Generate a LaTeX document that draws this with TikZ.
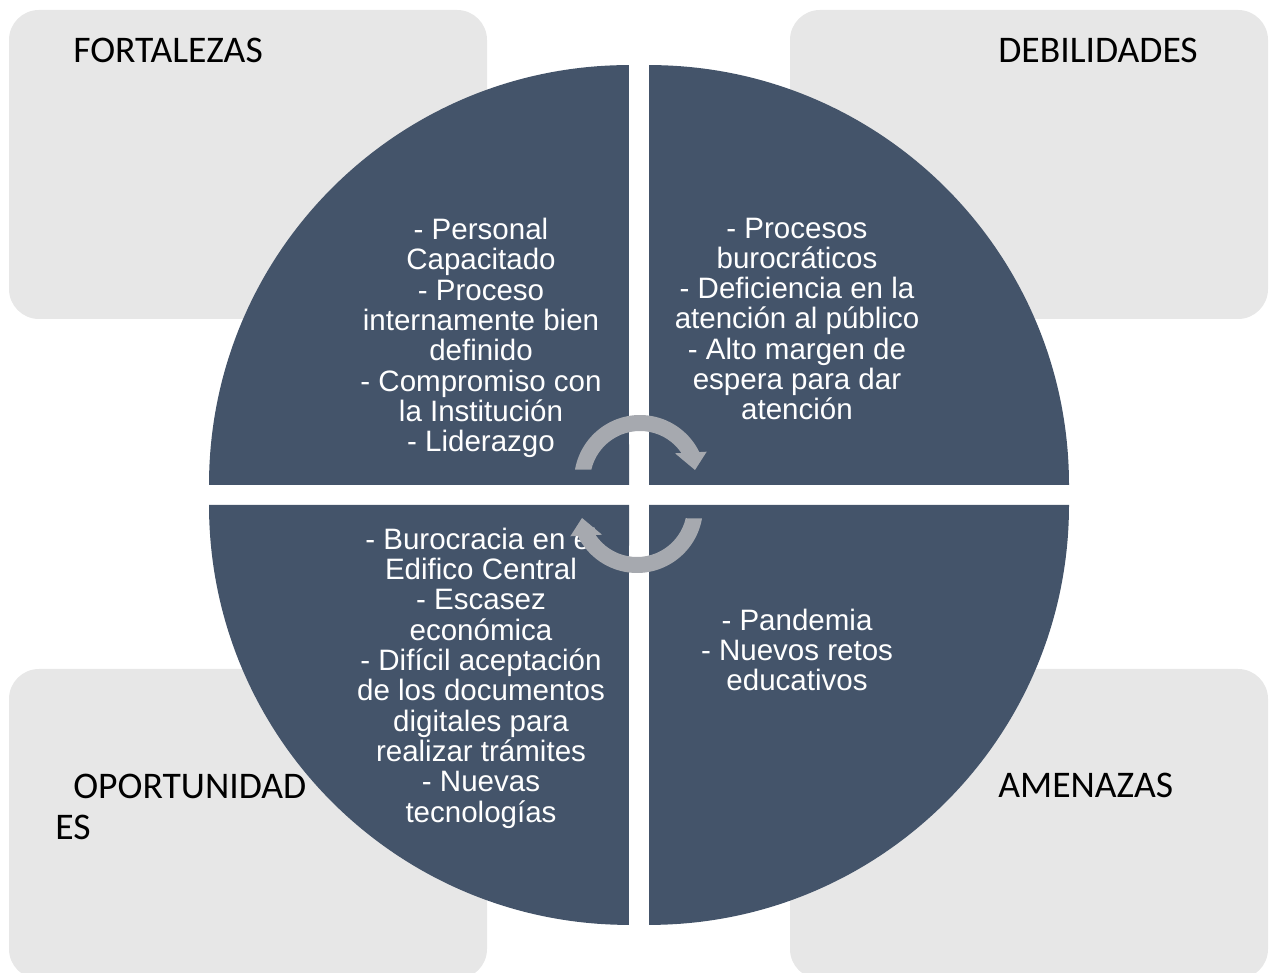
\documentclass[tikz,border=0pt]{standalone}
\usepackage{fontspec}
\setmainfont{Liberation Sans}
\newfontfamily\labfont{Carlito}
\definecolor{quad}{HTML}{44546A}
\definecolor{boxgray}{HTML}{E7E7E7}
\definecolor{arrowgray}{HTML}{A6A9AF}
\tikzset{
  cornerbox/.style={fill=boxgray, rounded corners=0.6cm},
  quadfill/.style={fill=quad},
  quadtext/.style={text=white, align=center, inner sep=0pt, font=\fontsize{16.8}{17.25}\selectfont},
  labeltext/.style={text=black, align=left, inner sep=0pt, font=\labfont\fontsize{21.4}{23.9}\selectfont}
}
\tikzset{cyclearrow/.style={fill=arrowgray}}
\begin{document}
\begin{tikzpicture}[x=0.02cm,y=0.02cm]
\useasboundingbox (0,0) rectangle (1271,973);
\clip (0,0) rectangle (1271,973);
% corner boxes
\fill[cornerbox] (9,654) rectangle (487,963);
\fill[cornerbox] (790,654) rectangle (1268,963);
\fill[cornerbox] (9,-6) rectangle (487,304);
\fill[cornerbox] (790,-6) rectangle (1268,304);
% labels
\node[labeltext, anchor=base west] (fort) at (73,910) {FORTALEZAS};
\node[labeltext, anchor=base west] (debil) at (998,910) {DEBILIDADES};
\node[labeltext, anchor=base west] (amen) at (998,175) {AMENAZAS};
\node[labeltext, anchor=base west] (oport) at (55,133) {\hspace*{0.36cm}OPORTUNIDAD\\ES};
% quadrants
\fill[quadfill] (629,488) -- ++(-420,0) arc[start angle=180,end angle=90,radius=8.4cm] -- cycle;
\fill[quadfill] (649,488) -- ++(420,0) arc[start angle=0,end angle=90,radius=8.4cm] -- cycle;
\fill[quadfill] (629,468) -- ++(-420,0) arc[start angle=180,end angle=270,radius=8.4cm] -- cycle;
\fill[quadfill] (649,468) -- ++(420,0) arc[start angle=0,end angle=-90,radius=8.4cm] -- cycle;
% quadrant texts
\node[quadtext] (ftext) at (481,635) {- Personal\\Capacitado\\- Proceso\\internamente bien\\definido\\- Compromiso con\\la Institución\\- Liderazgo};
\node[quadtext] (dtext) at (797,654) {- Procesos\\burocráticos\\- Deficiencia en la\\atención al público\\- Alto margen de\\espera para dar\\atención};
\node[quadtext] (otext) at (481,295) {- Burocracia en el\\Edifico Central\\- Escasez\\económica\\- Difícil aceptación\\de los documentos\\digitales para\\realizar trámites\\- Nuevas\\tecnologías};
\node[quadtext] (atext) at (797,323) {- Pandemia\\- Nuevos retos\\educativos};
% cycle arrows
\begin{scope}[shift={(640,492)}]
\fill[cyclearrow] (170:1.32cm) arc[start angle=170,end angle=26,radius=1.32cm] -- (66.7,29.3) -- (55,11) -- (35,27.7) -- (34:1cm) arc[start angle=34,end angle=167,radius=1cm] -- cycle;
\end{scope}
\begin{scope}[shift={(637,466)}, rotate=180]
\fill[cyclearrow] (170:1.32cm) arc[start angle=170,end angle=26,radius=1.32cm] -- (66.7,29.3) -- (55,11) -- (35,27.7) -- (34:1cm) arc[start angle=34,end angle=167,radius=1cm] -- cycle;
\end{scope}
\end{tikzpicture}
\end{document}
